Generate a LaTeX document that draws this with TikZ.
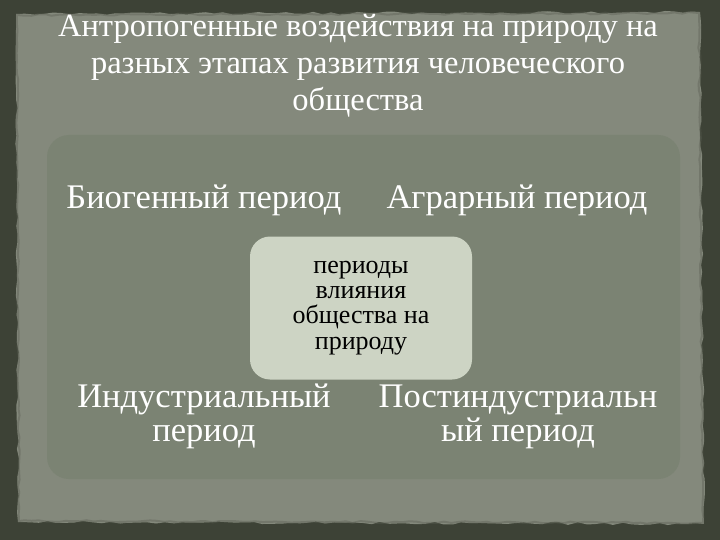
\documentclass[tikz,border=0pt]{standalone}
\usepackage{fontspec}
\setmainfont{Liberation Serif}
\usetikzlibrary{decorations.pathmorphing}
\definecolor{bgdark}{HTML}{3D4236}
\definecolor{paper}{HTML}{84897C}
\definecolor{panel}{HTML}{7B8373}
\definecolor{centerbox}{HTML}{CDD4C4}
\tikzset{
  period/.style={text=white,font=\fontsize{34.5}{34}\selectfont,align=center,inner sep=0pt},
  hub/.style={fill=centerbox,rounded corners=20pt,minimum width=222pt,minimum height=143pt,
    font=\fontsize{26}{25.3}\selectfont,align=center,text=black}
}
\begin{document}
\begin{tikzpicture}[x=1pt,y=-1pt]
  \useasboundingbox (0,0) rectangle (720,540);
  \fill[bgdark] (0,0) rectangle (720,540);
  \pgfmathsetseed{7}
  \fill[paper,decorate,decoration={random steps,segment length=9pt,amplitude=1.3pt}]
    (16,14) -- (700,12) -- (704,524) -- (18,522) -- cycle;
  \draw[bgdark!60!paper,line width=2pt,opacity=0.4,decorate,decoration={random steps,segment length=7pt,amplitude=1pt}]
    (17,15) -- (699,13) -- (703,523) -- (19,521) -- cycle;
  \fill[panel] (47,135) [rounded corners=22pt] rectangle (680,479);
  % title
  \node[text=white,font=\fontsize{32.5}{37}\selectfont,align=center] (title) at (358,66)
    {Антропогенные воздействия на природу на\\разных этапах развития человеческого\\общества};
  % four periods
  \node[period,anchor=base] (bio) at (204,208) {Биогенный период};
  \node[period,anchor=base] (agr) at (517,208) {Аграрный период};
  \node[period] (ind) at (204,416.5) {Индустриальный\\период};
  \node[period] (post) at (518,417.3) {Постиндустриальн\\ый период};
  % centre
  \node[hub] (hub) at (361,308) {периоды\\влияния\\общества на\\природу};
\end{tikzpicture}
\end{document}
